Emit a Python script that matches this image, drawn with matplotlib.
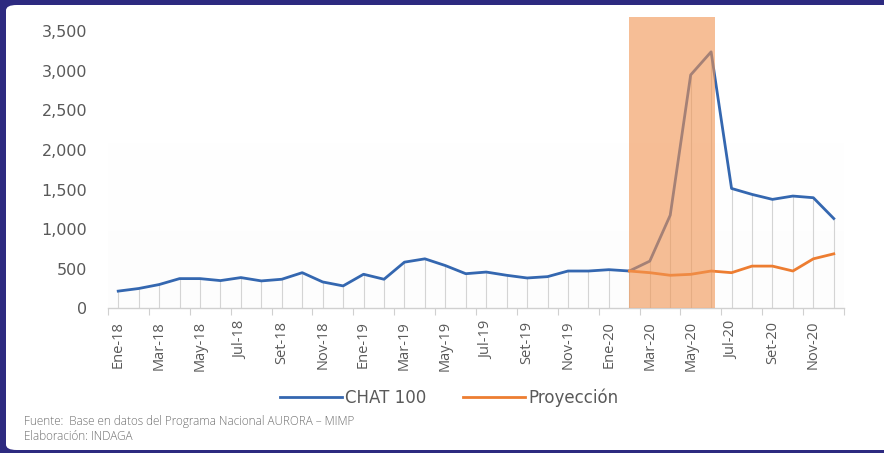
import numpy as np
import matplotlib.pyplot as plt
from matplotlib.patches import FancyBboxPatch

# Monthly series, Ene-18 .. Dic-20
meses = ['Ene', 'Feb', 'Mar', 'Abr', 'May', 'Jun',
         'Jul', 'Ago', 'Set', 'Oct', 'Nov', 'Dic']
anios = ['18', '19', '20']
etiquetas = [f'{m}-{a}' for a in anios for m in meses]

chat100 = [217, 250, 300, 375, 375, 350, 388, 346, 367, 450, 333, 283,
           430, 367, 583, 625, 540, 437, 458, 417, 383, 400, 471, 471,
           488, 471, 596, 1176, 2948, 3240, 1514, 1439, 1376, 1418, 1397, 1134]

# projection starts in Feb-20
inicio_proy = 25
proyeccion = [471, 450, 417, 429, 471, 450, 533, 533, 471, 625, 688]

# highlighted period (Feb-20 .. Jun-20)
periodo = (25, 29.2)

navy = '#2d2a80'
azul = '#3467b0'
naranja = '#ed7d31'
gris = '#595959'

fig = plt.figure(figsize=(8.84, 4.53), dpi=100)
fig.patch.set_facecolor(navy)

# white card on the navy frame
card = FancyBboxPatch((6 / 884, 3 / 453), 1.2, (453 - 8) / 453,
                      boxstyle='round,pad=0,rounding_size=0.012',
                      transform=fig.transFigure, facecolor='white',
                      edgecolor='none', zorder=-1)
fig.patches.append(card)

ax = fig.add_axes([108 / 884, 1 - 308.3 / 453, (844 - 108) / 884, (308.3 - 17) / 453])
ax.set_zorder(1)
ax.set_facecolor('none')

x = np.arange(len(chat100))
xp = np.arange(inicio_proy, inicio_proy + len(proyeccion))

# very faint gradient in the lower part of the plot area (white at top)
grad = np.linspace(0, 1, 100).reshape(-1, 1)
ax.imshow(grad, extent=(-0.5, 35.5, 0, 2350), aspect='auto', cmap='Greys',
          vmin=0, vmax=30, alpha=0.5, zorder=0, origin='upper')

ax.vlines(x, 0, chat100, color='#d4d4d4', lw=0.8, zorder=1)
ax.plot(x, chat100, color=azul, lw=2.0, zorder=3, label='CHAT 100')
ax.plot(xp, proyeccion, color=naranja, lw=2.0, zorder=3, label='Proyección')

ax.axvspan(periodo[0], periodo[1], ymin=0, ymax=1, color='#f19350',
           alpha=0.6, lw=0, zorder=4)

ax.set_xlim(-0.5, 35.5)
ax.set_ylim(0, 3680)

ax.set_yticks(np.arange(0, 3501, 500))
ax.set_yticklabels([f'{v:,}' for v in range(0, 3501, 500)],
                   fontsize=11.5, color=gris)
ax.tick_params(axis='y', length=0, pad=15)

ax.set_xticks(x[::2])
ax.set_xticklabels(etiquetas[::2], rotation=90, fontsize=10.5, color=gris,
                   family='Open Sans')
ax.set_xticks(np.arange(-0.5, 36, 2), minor=True)
ax.tick_params(axis='x', which='major', length=0, pad=9)
ax.tick_params(axis='x', which='minor', length=5, color='#d0d0d0', width=0.8)

for s in ['top', 'right', 'left']:
    ax.spines[s].set_visible(False)
ax.spines['bottom'].set_color('#d0d0d0')
ax.spines['bottom'].set_linewidth(1)

leg = ax.legend(loc='center', bbox_to_anchor=(449 / 884, 1 - 398 / 453),
                bbox_transform=fig.transFigure, ncol=2, frameon=False,
                fontsize=12, handlelength=3.7, columnspacing=2.2,
                handletextpad=0.2)
for t in leg.get_texts():
    t.set_color(gris)

fig.text(24 / 884, 1 - 421 / 453, 'Fuente:  Base en datos del Programa Nacional AURORA – MIMP',
         fontsize=8.5, color='#707070', family='Open Sans', weight='light', va='center')
fig.text(24 / 884, 1 - 437 / 453, 'Elaboración: INDAGA',
         fontsize=8.5, color='#707070', family='Open Sans', weight='light', va='center')

fig.savefig('out.png', dpi=100, facecolor=fig.get_facecolor())
